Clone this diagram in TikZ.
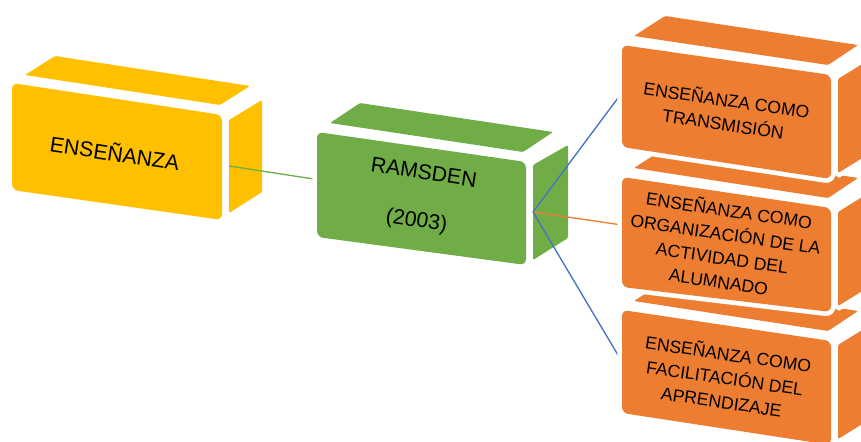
\documentclass[tikz,border=0pt]{standalone}
\usepackage{fontspec}
\setmainfont{Liberation Sans}

\tikzset{every picture/.style={line width=0.75pt}}
\tikzset{
  caraamarilla/.style={fill={rgb, 255:red, 255; green, 192; blue, 0 }, preaction={draw=white, line width=7pt}},
  caraverde/.style={fill={rgb, 255:red, 112; green, 173; blue, 71 }, preaction={draw=white, line width=7pt}},
  caranaranja/.style={fill={rgb, 255:red, 237; green, 125; blue, 49 }, preaction={draw=white, line width=7pt}},
  frente/.style={rounded corners=4.5pt},
  lado/.style={rounded corners=1pt},
  textogrande/.style={align=center, rotate=-8.5, font=\fontsize{16}{19}\selectfont},
  textonaranja/.style={align=center, rotate=-8.3, font=\fontsize{13.2}{18}\selectfont},
  enlace/.style={line width=1pt},
}

\begin{document}
\begin{tikzpicture}[x=0.75pt,y=0.75pt,yscale=-1,xscale=1]
	\clip (0,0) rectangle (861,442);

	%Shape: Cube (ENSEÑANZA)
	\path [caraamarilla, frente] (12,83) -- (222,115) -- (222,220) -- (12,190) -- cycle ;
	\path [caraamarilla, lado] (25,75) -- (55,56) -- (250,86) -- (220,105) -- cycle ;
	\path [caraamarilla, lado] (229,120) -- (262,100) -- (262,192) -- (229,213) -- cycle ;
	\coordinate (yel-e) at (229,166) ;
	% Text Node
	\node [textogrande] (yel) at (115,152) {ENSEÑANZA};

	%Shape: Cube (RAMSDEN)
	\coordinate (grn-w) at (317,179.5) ;
	\coordinate (grn-e) at (533,212) ;
	%Straight Lines
	\draw [enlace, draw={rgb, 255:red, 112; green, 173; blue, 71 }] (yel-e) -- (grn-w) ;
	\path [caraverde, frente] (317,132) -- (526,162) -- (526,265) -- (317,237) -- cycle ;
	\path [caraverde, lado] (330,123) -- (360,103) -- (553,132) -- (523,152) -- cycle ;
	\path [caraverde, lado] (533,165) -- (568,145) -- (568,238) -- (533,260) -- cycle ;
	% Text Node
	\node [textogrande] (grn) at (420,198) {RAMSDEN\\[17pt](2003)};

	\coordinate (ora-w) at (622,92.6) ;
	\coordinate (orb-w) at (622,225) ;
	\coordinate (orc-w) at (622,361.8) ;
	%Straight Lines
	\draw [enlace, draw={rgb, 255:red, 68; green, 114; blue, 196 }] (grn-e) -- (ora-w) ;
	\draw [enlace, draw={rgb, 255:red, 237; green, 125; blue, 49 }] (grn-e) -- (orb-w) ;
	\draw [enlace, draw={rgb, 255:red, 68; green, 114; blue, 196 }] (grn-e) -- (orc-w) ;

	%Shape: Cube (FACILITACIÓN)
	\path [caranaranja, frente] (622,310) -- (831,341) -- (831,445) -- (622,413) -- cycle ;
	\path [caranaranja, lado] (634,301) -- (665,281) -- (858,311) -- (828,331) -- cycle ;
	\path [caranaranja, lado] (838,345) -- (872,324) -- (872,418) -- (838,439) -- cycle ;
	% Text Node
	\node [textonaranja] (orc) at (725,377) {ENSEÑANZA COMO\\FACILITACIÓN DEL\\APRENDIZAJE};

	%Shape: Cube (ORGANIZACIÓN)
	\path [caranaranja, frente] (622,177) -- (831,208) -- (831,312) -- (622,287) -- cycle ;
	\path [caranaranja, lado] (634,168) -- (665,148) -- (858,178) -- (828,198) -- cycle ;
	\path [caranaranja, lado] (838,212) -- (872,191) -- (872,285) -- (838,306) -- cycle ;
	% Text Node
	\node [textonaranja] (orb) at (724,245) {ENSEÑANZA COMO\\ORGANIZACIÓN DE LA\\ACTIVIDAD DEL\\ALUMNADO};

	%Shape: Cube (TRANSMISIÓN)
	\path [caranaranja, frente] (622,45) -- (831,75) -- (831,179) -- (622,147) -- cycle ;
	\path [caranaranja, lado] (634,36) -- (665,16) -- (858,45) -- (828,65) -- cycle ;
	\path [caranaranja, lado] (838,79) -- (872,58) -- (872,152) -- (838,173) -- cycle ;
	% Text Node
	\node [textonaranja] (ora) at (725,111) {ENSEÑANZA COMO\\TRANSMISIÓN};

\end{tikzpicture}
\end{document}
